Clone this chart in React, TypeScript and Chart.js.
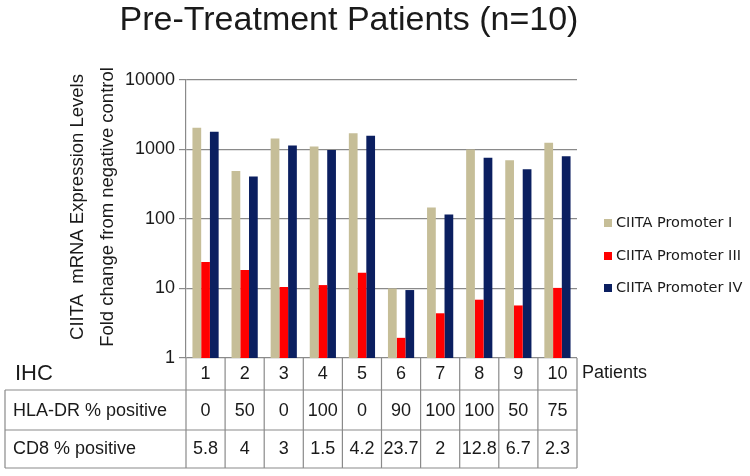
import React, { useEffect, useRef } from "react";
import { Chart, registerables } from "chart.js";

Chart.register(...registerables);

const patients = ["1", "2", "3", "4", "5", "6", "7", "8", "9", "10"];
const promoterI = [2050, 490, 1440, 1100, 1720, 10, 146, 1000, 700, 1250];
const promoterIII = [24, 18.4, 10.5, 11.2, 16.8, 1.95, 4.4, 6.9, 5.7, 10.2];
const promoterIV = [1800, 410, 1140, 980, 1580, 9.5, 116, 760, 520, 800];
const hlaDR = ["0", "50", "0", "100", "0", "90", "100", "100", "50", "75"];
const cd8 = ["5.8", "4", "3", "1.5", "4.2", "23.7", "2", "12.8", "6.7", "2.3"];
const yTicks = [1, 10, 100, 1000, 10000];
const seriesNames = ["CIITA Promoter I", "CIITA Promoter III", "CIITA Promoter IV"];
const seriesColors = ["#C6BE98", "#FF0000", "#0B1F60"];
const titleText = "Pre-Treatment Patients (n=10)";
const yTitleLines = ["CIITA  mRNA Expression Levels", "Fold change from negative control"];
const rowLabels = ["HLA-DR % positive", "CD8 % positive"];

const SANS = '"Liberation Sans", Arial, sans-serif';
const LINE = "#8a8a8a";
const TEXT = "#1a1a1a";

const overlay = {
  id: "overlay",
  afterDraw(chart: any) {
    const ctx = chart.ctx as CanvasRenderingContext2D;
    const area = chart.chartArea;
    const n = patients.length;
    const cw = (area.right - area.left) / n;
    ctx.save();
    // Title
    ctx.fillStyle = TEXT;
    ctx.font = `34px ${SANS}`;
    ctx.textAlign = "center";
    ctx.textBaseline = "alphabetic";
    ctx.fillText(titleText, 349, 30);

    // Y axis titles
    ctx.font = `18.5px ${SANS}`;
    const cy = (area.top + area.bottom) / 2 - 12;
    const xs = [83, 113];
    yTitleLines.forEach((t, i) => {
      ctx.save();
      ctx.translate(xs[i], cy);
      ctx.rotate(-Math.PI / 2);
      ctx.textAlign = "center";
      ctx.textBaseline = "alphabetic";
      ctx.fillText(t, 0, 0);
      ctx.restore();
    });

    // Legend
    ctx.font = `14.5px "DejaVu Sans", Verdana, sans-serif`;
    ctx.textAlign = "left";
    ctx.textBaseline = "middle";
    const ly = [223, 256, 288];
    seriesNames.forEach((s, i) => {
      ctx.fillStyle = seriesColors[i];
      ctx.fillRect(604, ly[i] - 4, 8, 8);
      ctx.fillStyle = TEXT;
      ctx.fillText(s, 616, ly[i]);
    });

    // Table
    const top = area.bottom;
    const r1 = 390;
    const r2 = 430;
    const r3 = 468;
    const tl = 5;
    ctx.strokeStyle = LINE;
    ctx.lineWidth = 1.2;
    ctx.beginPath();
    // horizontals
    ctx.moveTo(tl, r1); ctx.lineTo(area.right, r1);
    ctx.moveTo(tl, r2); ctx.lineTo(area.right, r2);
    ctx.moveTo(tl, r3); ctx.lineTo(area.right, r3);
    // left border of rows 2-3
    ctx.moveTo(tl, r1); ctx.lineTo(tl, r3);
    // category verticals
    for (let i = 0; i <= n; i++) {
      const x = area.left + i * cw;
      ctx.moveTo(x, top); ctx.lineTo(x, r3);
    }
    ctx.stroke();

    ctx.fillStyle = TEXT;
    ctx.font = `18px ${SANS}`;
    ctx.textAlign = "center";
    ctx.textBaseline = "middle";
    for (let i = 0; i < n; i++) {
      const x = area.left + (i + 0.5) * cw;
      ctx.fillText(patients[i], x, 374);
      ctx.fillText(hlaDR[i], x, 411);
      ctx.fillText(cd8[i], x, 449);
    }
    ctx.textAlign = "left";
    ctx.fillText(rowLabels[0], 13, 411);
    ctx.fillText(rowLabels[1], 13, 449);
    ctx.fillText("Patients", 582, 373);
    ctx.font = `22px ${SANS}`;
    ctx.fillText("IHC", 15, 374);
    ctx.restore();
  },
};

export default function App() {
  const ref = useRef<HTMLCanvasElement | null>(null);
  useEffect(() => {
    if (!ref.current) return;
    const chart = new Chart(ref.current, {
      type: "bar",
      data: {
        labels: patients,
        datasets: [
          { label: seriesNames[0], data: promoterI, backgroundColor: seriesColors[0] },
          { label: seriesNames[1], data: promoterIII, backgroundColor: seriesColors[1] },
          { label: seriesNames[2], data: promoterIV, backgroundColor: seriesColors[2] },
        ],
      },
      options: {
        animation: false,
        responsive: false,
        devicePixelRatio: 1,
        layout: { padding: { left: 0, top: 80, right: 173, bottom: 118 } },
        datasets: { bar: { categoryPercentage: 0.67, barPercentage: 1 } },
        plugins: {
          legend: { display: false },
          title: { display: false },
          tooltip: { enabled: false },
        },
        scales: {
          x: { display: false },
          y: {
            type: "logarithmic",
            min: 1,
            max: 10000,
            afterBuildTicks: (scale: any) => {
              scale.ticks = yTicks.map((v) => ({ value: v, major: true }));
            },
            afterFit: (scale: any) => {
              scale.width = 186;
            },
            border: { display: true, color: LINE, width: 1.2 },
            grid: { color: LINE, lineWidth: 1.2, tickLength: 7, drawTicks: true },
            ticks: {
              color: TEXT,
              padding: 4,
              font: { family: SANS, size: 18 },
              callback: (v: any) => String(v),
            },
          },
        },
      },
      plugins: [overlay],
    });
    return () => chart.destroy();
  }, []);
  return (
    <div style={{ position: "absolute", left: 0, top: 0, width: 750, height: 476, background: "#fff" }}>
      <canvas ref={ref} width={750} height={476} />
    </div>
  );
}
